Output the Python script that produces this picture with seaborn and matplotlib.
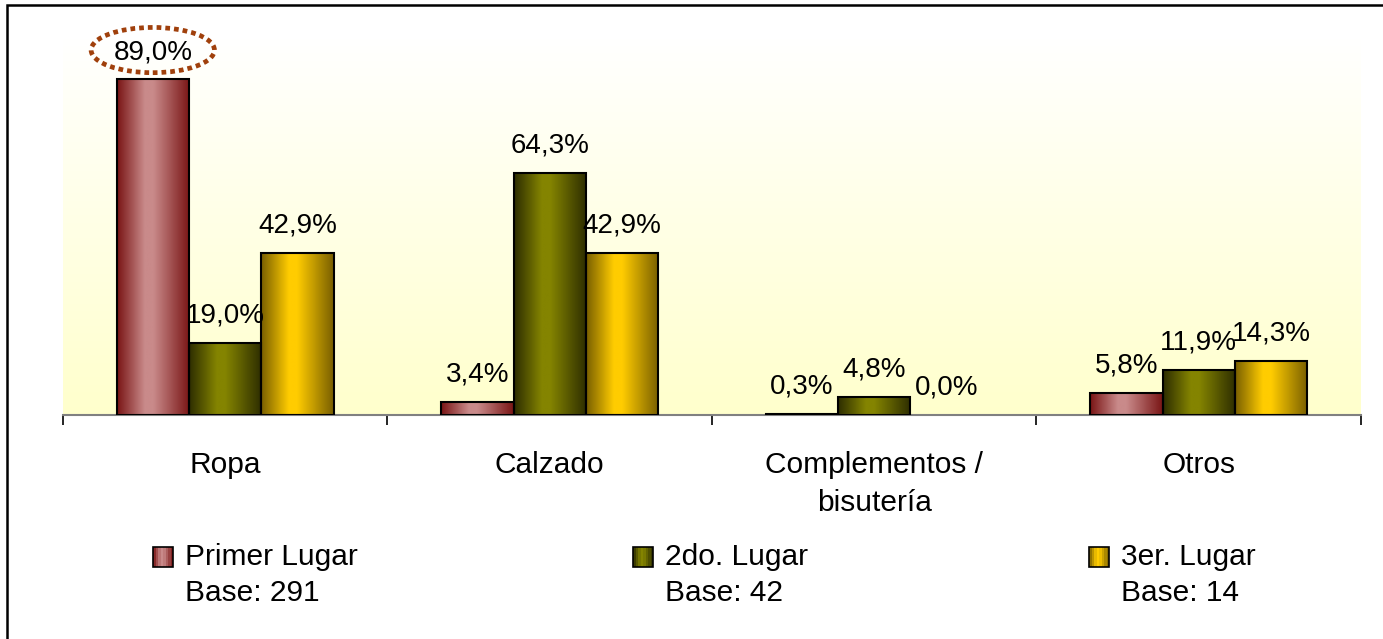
import numpy as np
import pandas as pd
import matplotlib
matplotlib.use("Agg")
import matplotlib.pyplot as plt
import seaborn as sns
from matplotlib.colors import LinearSegmentedColormap
from matplotlib.patches import Rectangle, Ellipse
from matplotlib.legend_handler import HandlerBase

# ---- data ----
categories = ["Ropa", "Calzado", "Complementos /\nbisutería", "Otros"]
series = ["Primer Lugar", "2do. Lugar", "3er. Lugar"]
bases = [291, 42, 14]
primer = [89.0, 3.4, 0.3, 5.8]
segundo = [19.0, 64.3, 4.8, 11.9]
tercero = [42.9, 42.9, 0.0, 14.3]

# ---- style ----
dark_light = {
    "Primer Lugar": ("#7a1616", "#c98a8a"),
    "2do. Lugar": ("#2e2e00", "#848400"),
    "3er. Lugar": ("#7a6000", "#ffcc00"),
}

sns.set_style("white")
plt.rcParams["font.family"] = ["Liberation Sans", "DejaVu Sans"]
plt.rcParams["text.color"] = "black"
plt.rcParams["xtick.color"] = "black"
plt.rcParams["xtick.labelcolor"] = "black"
plt.rcParams["xtick.bottom"] = True
FS = 20      # bar value labels
FS2 = 21.5   # category and legend text

rows = []
for s, vals in zip(series, [primer, segundo, tercero]):
    for c, v in zip(categories, vals):
        rows.append({"cat": c, "serie": s, "val": v})
df = pd.DataFrame(rows)

W, H = 1383, 639
fig = plt.figure(figsize=(W / 100, H / 100), dpi=100)
ax = fig.add_axes([63 / W, 1 - 415 / H, (1361 - 63) / W, (415 - 38) / H])

sns.barplot(data=df, x="cat", y="val", hue="serie", order=categories,
            hue_order=series, width=0.67, gap=0, ax=ax, legend=False,
            errorbar=None, edgecolor="black", linewidth=1.5)

def cmap_for(s):
    d, l = dark_light[s]
    return LinearSegmentedColormap.from_list(s, [(0, d), (0.38, l), (0.5, l), (1, d)])

grad = np.linspace(0, 1, 64).reshape(1, -1)
for s, cont in zip(series, ax.containers):
    cm = cmap_for(s)
    for bar, v in zip(cont, df[df.serie == s].val):
        x0, w, h = bar.get_x(), bar.get_width(), bar.get_height()
        if h > 0:
            ax.imshow(grad, cmap=cm, extent=[x0, x0 + w, 0, h], aspect="auto",
                      zorder=2, interpolation="bilinear")
        else:
            bar.set_linewidth(0)
        bar.set_facecolor("none")
        bar.set_zorder(3)
        lab = f"{v:.1f}".replace(".", ",") + "%"
        ax.annotate(lab, (x0 + w / 2, h), xytext=(0, 14.7), textcoords="offset points",
                    ha="center", va="baseline", fontsize=FS, zorder=5)

# highlight ellipse around the top label
b0 = ax.containers[0][0]
ax.add_patch(Ellipse((b0.get_x() + b0.get_width() / 2, b0.get_height() + 7.8),
                     0.38, 12.0, fill=False, edgecolor="#a0400c", lw=3.4,
                     linestyle=(0, (1, 0.85)), clip_on=False, zorder=6))

ax.set_xlim(-0.5, len(categories) - 0.5)
ax.set_ylim(0, 100)

# background gradient
bg = LinearSegmentedColormap.from_list("bg", ["#ffffcc", "#ffffff"])
ax.imshow(np.linspace(0, 1, 256).reshape(-1, 1), cmap=bg, extent=[0, 1, 0, 1],
          transform=ax.transAxes, aspect="auto", zorder=0, origin="lower")

for sp in ["left", "top", "right"]:
    ax.spines[sp].set_visible(False)
ax.spines["bottom"].set_color("#808080")
ax.spines["bottom"].set_linewidth(1.5)
ax.set_yticks([])
ax.set_xlabel("")
ax.set_ylabel("")
ax.set_xticks(range(len(categories)))
ax.set_xticklabels(categories, fontsize=FS2)
ax.set_xticks(np.arange(-0.5, len(categories), 1.0), minor=True)
ax.tick_params(axis="x", which="major", bottom=True, length=0, pad=26)
ax.tick_params(axis="x", which="minor", bottom=True, length=7, width=1.2,
               color="black", direction="out")
for t in ax.get_xticklabels():
    t.set_linespacing(1.44)

# legend with gradient handles, handle aligned to first line
class GradHandler(HandlerBase):
    def __init__(self, serie, shift):
        super().__init__()
        self.serie = serie
        self.shift = shift
    def create_artists(self, legend, orig_handle, xdescent, ydescent, width,
                       height, fontsize, trans):
        cm = cmap_for(self.serie)
        arts = []
        n = 8
        sz = height
        y0 = -ydescent + self.shift
        for i in range(n):
            r = Rectangle((-xdescent + i * width / n, y0), width / n + 0.05, sz,
                          facecolor=cm((i + 0.5) / n), edgecolor="none", transform=trans)
            arts.append(r)
        arts.append(Rectangle((-xdescent, y0), width, sz, facecolor="none",
                              edgecolor="black", lw=1.2, transform=trans))
        return arts

leg_x = [153, 633, 1089]
for s, b, lx in zip(series, bases, leg_x):
    h = Rectangle((0, 0), 1, 1)
    lg = fig.legend([h], [f"{s}\nBase: {b}"], loc="upper left",
                    bbox_to_anchor=(lx / W, 1 - 543 / H), frameon=False,
                    fontsize=FS2, borderpad=0, borderaxespad=0,
                    handlelength=0.68, handleheight=0.68, handletextpad=0.38,
                    handler_map={h: GradHandler(s, 13.3)})
    for t in lg.get_texts():
        t.set_linespacing(1.37)
        t.set_color("black")

# outer border (left and top visible)
fig.add_artist(Rectangle((7 / W, -0.1), 2, 1.1 - 5.5 / H, transform=fig.transFigure,
                         fill=False, edgecolor="black", lw=1.8))

fig.savefig("out.png", dpi=100)
